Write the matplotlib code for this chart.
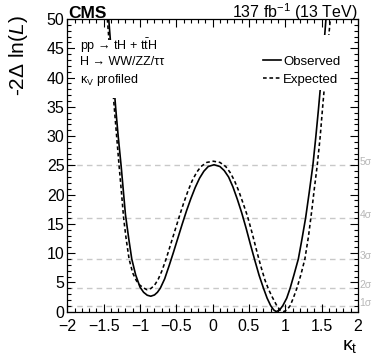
import matplotlib
matplotlib.use("Agg")
from matplotlib import pyplot as plt
from matplotlib.patches import Rectangle
import matplotlib.transforms as mtransforms

plt.rcParams['font.family'] = ['Liberation Sans', 'DejaVu Sans']
plt.rcParams['mathtext.fontset'] = 'custom'
plt.rcParams['mathtext.rm'] = 'Liberation Sans'
plt.rcParams['mathtext.it'] = 'Liberation Sans:italic'
plt.rcParams['mathtext.bf'] = 'Liberation Sans:bold'

# values
obs_kt = [-1.43, -1.38, -1.333, -1.30, -1.26, -1.23, -1.20, -1.155, -1.113, -1.06,
          -1.0, -0.95, -0.90, -0.851, -0.80, -0.76, -0.72, -0.66, -0.60, -0.54,
          -0.48, -0.42, -0.36, -0.30, -0.24, -0.18, -0.12, -0.06, 0.02, 0.10,
          0.16, 0.22, 0.28, 0.34, 0.40, 0.46, 0.52, 0.58, 0.64, 0.70,
          0.75, 0.80, 0.84, 0.875, 0.92, 0.965, 1.02, 1.067, 1.12, 1.18,
          1.23, 1.28, 1.33, 1.38, 1.42, 1.457, 1.49, 1.525, 1.56]
obs_nll = [50, 42, 34.6, 30, 25, 20.8, 16.6, 12.5, 9, 6.3,
           4.2, 3.3, 2.8, 2.63, 2.85, 3.3, 4.0, 5.6, 7.8, 10.1,
           12.5, 14.9, 17.2, 19.3, 21.2, 22.8, 24.0, 24.8, 25.1, 24.8,
           24.1, 23.0, 21.3, 19.2, 16.9, 14.3, 11.5, 8.8, 6.2, 4.0,
           2.3, 1.0, 0.3, 0, 0.25, 1.0, 2.3, 4, 6.3, 9,
           12.4, 16, 20.4, 25, 29.8, 34.6, 39.2, 44.4, 50]

exp_kt = [-1.449, -1.40, -1.352, -1.32, -1.288, -1.255, -1.225, -1.19, -1.15, -1.10,
          -1.05, -1.0, -0.95, -0.906, -0.85, -0.80, -0.75, -0.70, -0.64, -0.58,
          -0.52, -0.46, -0.40, -0.34, -0.28, -0.22, -0.16, -0.08, 0.01, 0.10,
          0.18, 0.24, 0.30, 0.36, 0.42, 0.48, 0.54, 0.60, 0.66, 0.72,
          0.77, 0.82, 0.884, 0.93, 0.975, 1.02, 1.067, 1.11, 1.16, 1.215,
          1.27, 1.32, 1.366, 1.40, 1.44, 1.48, 1.512, 1.545, 1.58, 1.62]
exp_nll = [50, 42, 34.6, 29.8, 25, 20.4, 16, 12.4, 9, 6.6,
           5.3, 4.5, 4.05, 3.75, 3.95, 4.5, 5.5, 6.9, 9.0, 11.4,
           13.8, 16.2, 18.5, 20.6, 22.4, 23.8, 24.8, 25.5, 25.7, 25.5,
           24.8, 23.8, 22.4, 20.6, 18.5, 16.3, 13.6, 10.7, 7.9, 5.4,
           3.8, 2.5, 1.0, 0.25, 0, 0.25, 1.0, 2.3, 4, 6.3,
           9, 12.9, 17.4, 21.0, 25, 29.8, 34.6, 39.3, 44.5, 50]

sigma_levels = [1, 4, 9, 16, 25]
sigma_names = ['1σ', '2σ', '3σ', '4σ', '5σ']

x_ticks = [-2, -1.5, -1, -0.5, 0, 0.5, 1, 1.5, 2]
x_ticklabels = ['\u22122', '\u22121.5', '\u22121', '\u22120.5', '0', '0.5', '1', '1.5', '2']
y_ticks = [0, 5, 10, 15, 20, 25, 30, 35, 40, 45, 50]

fig = plt.figure(figsize=(3.74, 3.59), dpi=100)
ax = fig.add_axes([0.180, 0.132, 0.777, 0.815])

trans = mtransforms.blended_transform_factory(ax.transAxes, ax.transData)
for lvl, name in zip(sigma_levels, sigma_names):
    ax.axhline(lvl, color='#c8c8c8', lw=1.0, ls=(0, (4, 3)), zorder=1)
    ax.text(1.006, lvl, name, transform=trans, fontsize=7.5, color='#b8b8b8',
            va='baseline', ha='left', clip_on=False)

obs_line, = ax.plot(obs_kt, obs_nll, color='black', lw=1.2, zorder=2)
exp_line, = ax.plot(exp_kt, exp_nll, color='black', lw=1.15, dashes=(2.3, 1.7), zorder=2)

ax.set_xlim(-2, 2)
ax.set_ylim(0, 50)
ax.set_xticks(x_ticks)
ax.set_xticklabels(x_ticklabels)
ax.set_yticks(y_ticks)
ax.set_xticks([v / 10 for v in range(-20, 21)], minor=True)
ax.set_yticks(range(0, 51), minor=True)
ax.tick_params(which='both', direction='in', top=True, right=True, labelsize=11.5)
ax.tick_params(axis='x', which='major', pad=5)
ax.tick_params(axis='y', which='major', pad=2)
ax.tick_params(which='major', length=5.5, width=0.8)
ax.tick_params(which='minor', length=2.7, width=0.8)
for sp in ax.spines.values():
    sp.set_linewidth(0.9)

# white boxes behind the text, hiding the curves like the original
ax.add_patch(Rectangle((0.025, 0.73), 0.33, 0.20, transform=ax.transAxes,
                       facecolor='white', edgecolor='none', zorder=3))
ax.add_patch(Rectangle((0.66, 0.757), 0.29, 0.19, transform=ax.transAxes,
                       facecolor='white', edgecolor='none', zorder=3))

ax.text(0.045, 0.907, 'pp → tH + t$\\bar{\\mathrm{t}}$H', transform=ax.transAxes,
        fontsize=9, va='center', zorder=4)
ax.text(0.045, 0.852, 'H → WW/ZZ/ττ', transform=ax.transAxes,
        fontsize=9, va='center', zorder=4)
ax.text(0.045, 0.793, r'$\mathrm{κ_V}$ profiled', transform=ax.transAxes,
        fontsize=9, va='center', zorder=4)

leg = ax.legend([obs_line, exp_line], ['Observed', 'Expected'], loc='center left',
                bbox_to_anchor=(0.675, 0.824), frameon=False, fontsize=9.5,
                handlelength=1.3, handletextpad=0.2, labelspacing=0.42,
                borderpad=0, borderaxespad=0)
leg.set_zorder(5)

fig.text(0.183, 0.951, 'CMS', fontsize=12.5, fontweight='bold', ha='left', va='baseline')
fig.text(0.957, 0.951, r'137 fb$^{-1}$ (13 TeV)', fontsize=11.5, ha='right', va='baseline')

ax.set_ylabel(r'-2Δ ln($\mathit{L}$)', fontsize=15, loc='top')
ax.yaxis.set_label_coords(-0.13, 1.012)
ax.set_xlabel(r'$\mathrm{κ_t}$', fontsize=14, loc='right', labelpad=3)

fig.savefig('out.png', dpi=100)
